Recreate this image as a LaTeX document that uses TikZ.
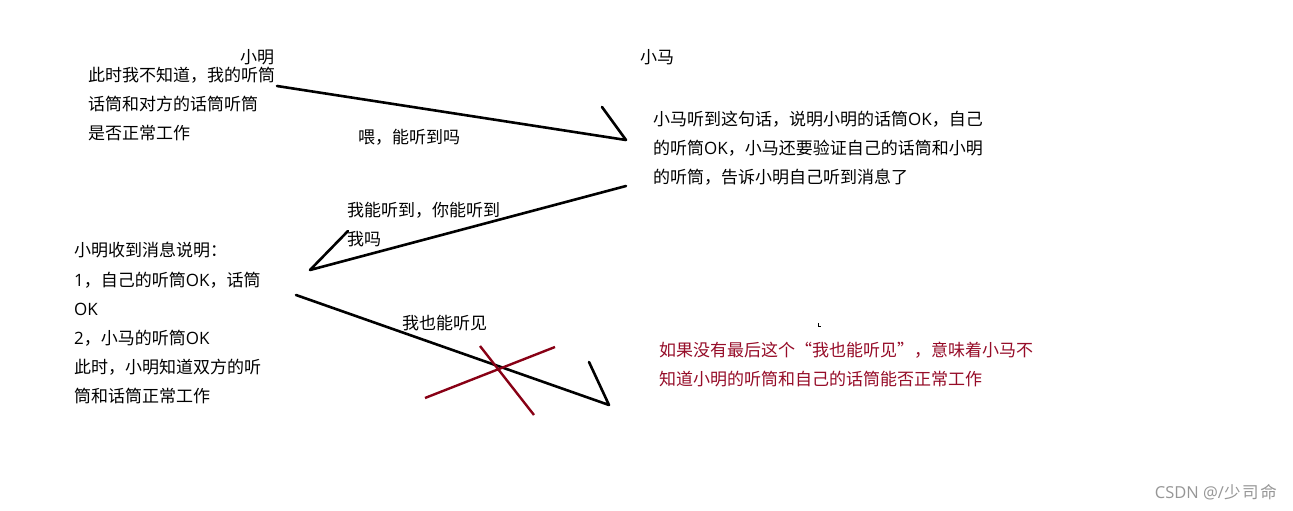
\documentclass[tikz,border=0pt]{standalone}
\usepackage{fontspec}
\setmainfont{Noto Sans CJK SC}
\newfontfamily\latf{Open Sans}
\newfontfamily\wmcjk[LetterSpace=10]{Noto Sans CJK SC}
\newcommand{\lt}[1]{{\latf #1}}
\definecolor{xred}{RGB}{136,0,21}
\definecolor{tred}{RGB}{150,12,40}
\definecolor{wgray}{RGB}{150,150,150}
\begin{document}
\begin{tikzpicture}[x=1pt,y=-1pt,
  txt/.style={font=\fontsize{17}{20}\selectfont, inner sep=0pt, anchor=west},
  rtxt/.style={txt, text=tred},
  stroke/.style={line width=2.6pt, line cap=round, line join=round},
  redstroke/.style={line width=2.4pt, draw=xred}]
\fill[white] (0,0) rectangle (1293,511);
\useasboundingbox (0,0) rectangle (1293,511);

% titles
\node[txt, anchor=center] (xm) at (257,57) {小明};
\node[txt, anchor=center] (xma) at (657,57) {小马};

% top-left block
\node[txt] (a1) at (88,75) {此时我不知道，我的听筒};
\node[txt] (a2) at (88,104) {话筒和对方的话筒听筒};
\node[txt] (a3) at (88,133) {是否正常工作};

% message 1
\node[txt] (m1) at (358,137) {喂，能听到吗};

% right block
\node[txt] (b1) at (653,119) {小马听到这句话，说明小明的话筒\lt{OK}，自己};
\node[txt] (b2) at (653,148) {的听筒\lt{OK}，小马还要验证自己的话筒和小明};
\node[txt] (b3) at (653,177) {的听筒，告诉小明自己听到消息了};

% message 2
\node[txt] (m2a) at (347,210) {我能听到，你能听到};
\node[txt] (m2b) at (347,239) {我吗};

% left block
\node[txt] (c1) at (74,250) {小明收到消息说明：};
\node[txt] (c2) at (74,280) {\lt{1}，自己的听筒\lt{OK}，话筒};
\node[txt] (c3) at (74,309) {\lt{OK}};
\node[txt] (c4) at (74,338) {\lt{2}，小马的听筒\lt{OK}};
\node[txt] (c5) at (74,367) {此时，小明知道双方的听};
\node[txt] (c6) at (74,396) {筒和话筒正常工作};

% message 3
\node[txt] (m3) at (402,323) {我也能听见};

% red note
\node[rtxt] (r1) at (659,350) {如果没有最后这个“我也能听见”，意味着小马不};
\node[rtxt] (r2) at (659,379) {知道小明的听筒和自己的话筒能否正常工作};

% watermark
\node[font=\fontsize{16.5}{18}\selectfont, text=wgray, inner sep=0pt, anchor=east] (wm) at (1277,492) {{\latf CSDN @/}{\wmcjk 少司命}};

% arrow endpoints
\coordinate (s1) at (277,86);
\coordinate (e1) at (626,140);
\coordinate (h1) at (602,107);
\coordinate (s2) at (626,186);
\coordinate (e2) at (310,270);
\coordinate (h2) at (348,231);
\coordinate (s3) at (296,295);
\coordinate (e3) at (609,405);
\coordinate (h3) at (589,362);

\draw[stroke] (s1) -- (e1) -- (h1);
\draw[stroke] (s2) -- (e2) -- (h2);
\draw[stroke] (s3) -- (e3) -- (h3);

% red cross
\coordinate (x1) at (425,398);
\coordinate (x2) at (555,347);
\coordinate (x3) at (480,346);
\coordinate (x4) at (534,415);
\draw[redstroke] (x1) -- (x2);
\draw[redstroke] (x3) -- (x4);

% tiny stray mark
\coordinate (t1) at (818,323);
\coordinate (t2) at (818,326.5);
\coordinate (t3) at (820.5,326.5);
\draw[line width=0.9pt] (t1) -- (t2) -- (t3);
\end{tikzpicture}
\end{document}
